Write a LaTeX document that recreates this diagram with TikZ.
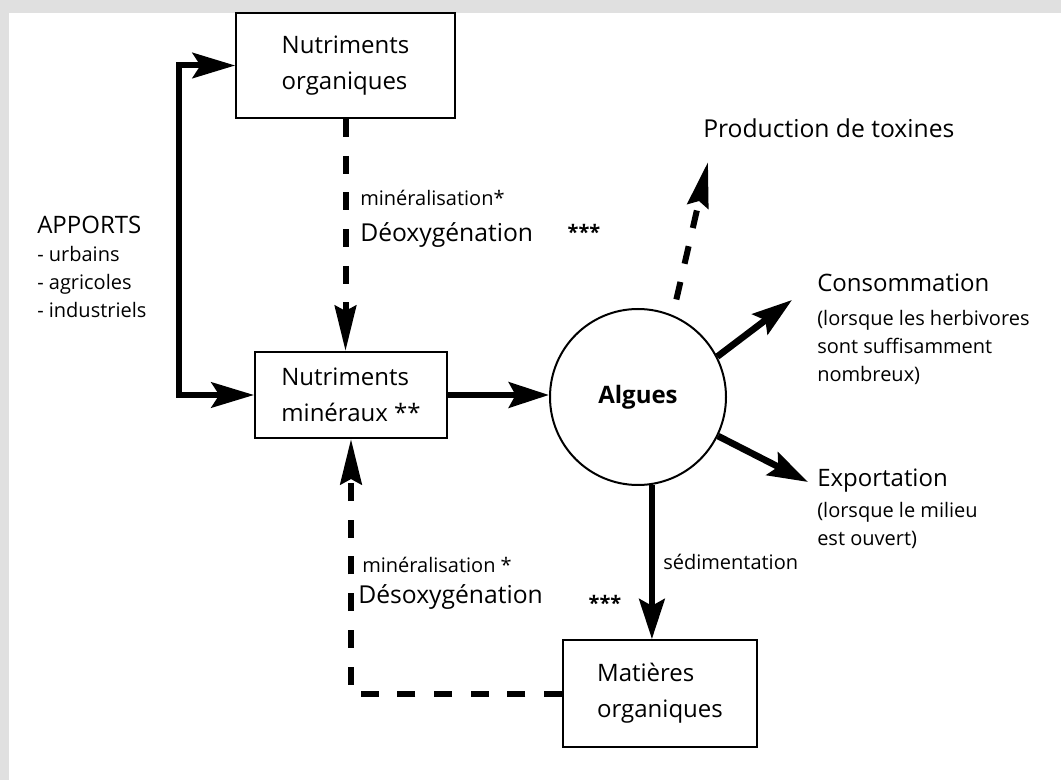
\documentclass[tikz,border=0pt]{standalone}
\usepackage{fontspec}
\setmainfont{Open Sans}
\usetikzlibrary{arrows.meta,shapes}

\begin{document}
\begin{tikzpicture}[x=0.75pt,y=-0.75pt,auto]

  \tikzstyle{box}=[rectangle,draw,line width=1.5pt,align=left,
    font=\fontsize{18}{27}\selectfont]

  \tikzstyle{cell}=[circle,draw,line width=1.5pt,minimum size=132pt,
    font=\fontsize{18}{22}\selectfont\bfseries]

  \tikzstyle{big}=[inner sep=0pt,align=left,font=\fontsize{18.5}{22}\selectfont]
  \tikzstyle{note}=[inner sep=0pt,align=left,font=\fontsize{15}{21}\selectfont]

  %% \draw [help lines] (0,0) grid (1061,780);

  \useasboundingbox (0,0) rectangle (1061,780);
  \fill [black!12] (0,0) rectangle (1061,780);
  \fill [white] (9,13) rectangle (1061,780);

  \node  (norg) at (345.5,65.5) [box,minimum width=164pt,minimum height=79pt]
         {Nutriments\\organiques};
  \node  (nmin) at (351,395)    [box,minimum width=144pt,minimum height=64.5pt]
         {Nutriments\\minéraux **};
  \node  (alg)  at (638,397)    [cell] {Algues};
  \node  (morg) at (660,693.5)  [box,minimum width=145.5pt,minimum height=80pt]
         {Matières\\organiques};

  \node  (app)  at (37,216) [note,anchor=north west]
         {{\fontsize{18}{21}\selectfont APPORTS}\\- urbains\\- agricoles\\- industriels};

  \node  (min1)  at (360,198) [note,anchor=west] {minéralisation*};
  \node  (deox1) at (360,235) [big,anchor=west]  {Déoxygénation};
  \node  (star1) at (584,232) [note]             {\bfseries ***};
  \node  (min2)  at (362,565) [note,anchor=west] {minéralisation *};
  \node  (deox2) at (358,597) [big,anchor=west]  {Désoxygénation};
  \node  (star2) at (605,603) [note]             {\bfseries ***};
  \node  (sed)   at (663,562) [note,anchor=west] {sédimentation};

  \node  (tox)  at (703,128) [big,anchor=west] {Production de toxines};
  \node  (cons) at (817,274) [note,anchor=north west]
         {{\fontsize{18}{21}\selectfont Consommation}\\[4pt](lorsque les herbivores\\sont suffisamment\\nombreux)};
  \node  (expo) at (817,469) [note,anchor=north west]
         {{\fontsize{18}{21}\selectfont Exportation}\\[2pt](lorsque le milieu\\est ouvert)};

  \coordinate (toxtip)  at (708,162);
  \coordinate (constip) at (792,300);
  \coordinate (exptip)  at (808,482);

  \tikzstyle{flow}=[-{Stealth[length=30pt,width=19pt,inset=5pt]},line width=5pt]
  \tikzstyle{flowd}=[-{Stealth[length=34pt,width=16pt,inset=4pt]},line width=4.5pt,
    dash pattern=on 13.5pt off 14pt]
  \tikzstyle{feed}=[{Stealth[length=32pt,width=19pt,inset=6pt]}-{Stealth[length=32pt,width=19pt,inset=6pt]},
    line width=4.5pt]

  \draw [feed] (norg.west) -- ++(-56,0) |- (nmin.west);
  \draw [flowd] (morg.west) -| (nmin.south);

  \path (norg.south) edge [flowd] (norg.south |- nmin.north)
        (nmin.east)  edge [flow]  (nmin.east -| alg.west)
        (alg.67)     edge [flowd,shorten <=12pt] (toxtip)
        (alg.27)     edge [flow]  (constip)
        (alg.-26)    edge [flow]  (exptip)
        (alg.-81)    edge [flow]  (alg.-81 |- morg.north);

\end{tikzpicture}
\end{document}
